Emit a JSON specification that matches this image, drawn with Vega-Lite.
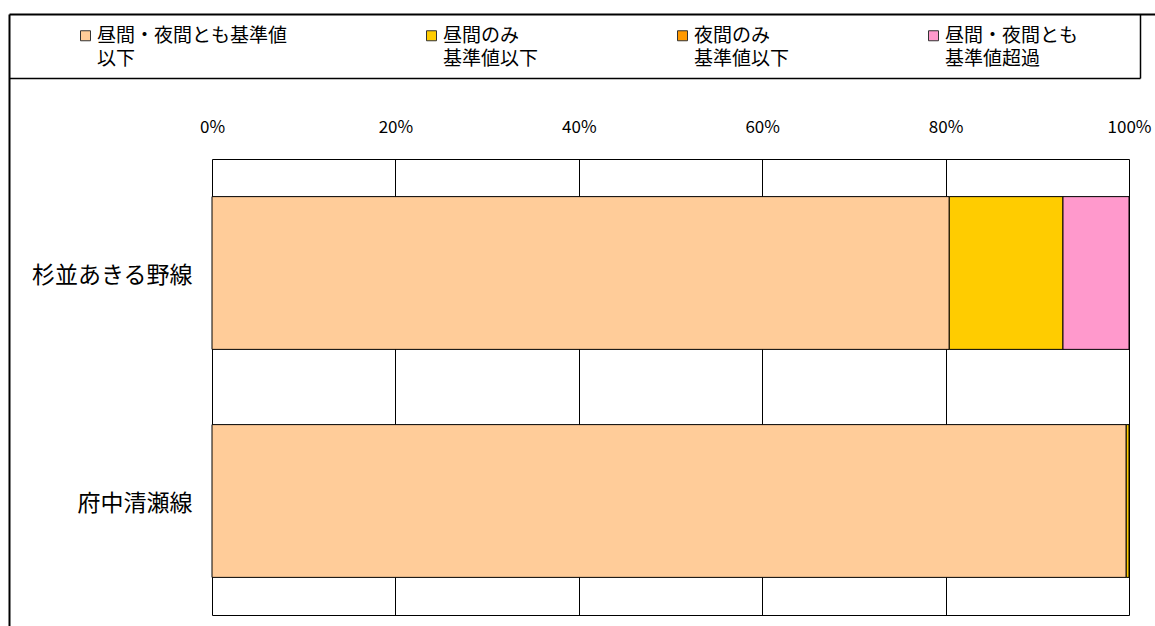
{
  "$schema": "https://vega.github.io/schema/vega-lite/v6.json",
  "autosize": {"type": "none"},
  "padding": {"left": 9, "top": 14, "right": 0, "bottom": 0},
  "width": 1146,
  "height": 612,
  "background": "white",
  "data": {
    "values": [
      {"route": "杉並あきる野線", "cat": "昼間・夜間とも基準値以下", "pct": 80.4, "rank": 1},
      {"route": "杉並あきる野線", "cat": "昼間のみ基準値以下", "pct": 12.4, "rank": 2},
      {"route": "杉並あきる野線", "cat": "昼間・夜間とも基準値超過", "pct": 7.2, "rank": 4},
      {"route": "府中清瀬線", "cat": "昼間・夜間とも基準値以下", "pct": 99.7, "rank": 1},
      {"route": "府中清瀬線", "cat": "昼間のみ基準値以下", "pct": 0.3, "rank": 2}
    ]
  },
  "layer": [
    {
      "mark": {"type": "bar", "stroke": "black", "strokeWidth": 1},
      "encoding": {
        "x": {
          "field": "pct", "type": "quantitative", "stack": "zero",
          "scale": {"domain": [0, 100], "range": [203, 1120], "nice": false},
          "axis": {
            "orient": "top", "offset": -145, "title": null,
            "values": [0, 20, 40, 60, 80, 100],
            "labelExpr": "datum.value + '%'",
            "grid": true, "gridColor": "black", "gridOpacity": 1, "gridWidth": 1,
            "domain": true, "domainColor": "black", "domainWidth": 1,
            "ticks": false, "labelPadding": 23, "labelFontSize": 17,
            "labelColor": "black", "labelFlush": false, "labelOverlap": false
          }
        },
        "y": {
          "field": "route", "type": "nominal",
          "sort": ["杉並あきる野線", "府中清瀬線"],
          "scale": {"range": [145, 601], "paddingInner": 0.33, "paddingOuter": 0.165},
          "axis": {
            "orient": "left", "offset": -203, "title": null,
            "domain": false, "ticks": false, "grid": false,
            "labelPadding": 20, "labelFontSize": 23, "labelOffset": 3,
            "labelColor": "black", "labelLimit": 300
          }
        },
        "color": {
          "field": "cat", "type": "nominal",
          "scale": {
            "domain": ["昼間・夜間とも基準値以下", "昼間のみ基準値以下", "夜間のみ基準値以下", "昼間・夜間とも基準値超過"],
            "range": ["#FFCC99", "#FFCC00", "#FF9900", "#FF99CC"]
          },
          "legend": {
            "orient": "none", "legendX": 67, "legendY": 12,
            "direction": "horizontal", "columns": 4, "columnPadding": 134, "gridAlign": "each",
            "symbolType": "square", "symbolSize": 100, "symbolStrokeColor": "#333333", "symbolStrokeWidth": 1,
            "labelFontSize": 19, "labelOffset": 2, "labelLimit": 400,
            "labelColor": "black",
            "labelExpr": "datum.label == '昼間・夜間とも基準値以下' ? ['昼間・夜間とも基準値', '以下'] : datum.label == '昼間のみ基準値以下' ? ['昼間のみ', '基準値以下'] : datum.label == '夜間のみ基準値以下' ? ['夜間のみ', '基準値以下'] : ['昼間・夜間とも', '基準値超過']",
            "title": null,
            "padding": 0
          }
        },
        "order": {"field": "rank", "type": "quantitative"}
      }
    },
    {
      "mark": {"type": "point", "opacity": 0},
      "encoding": {
        "x": {
          "field": "pct", "type": "quantitative",
          "scale": {"domain": [0, 100], "range": [203, 1120], "nice": false},
          "axis": {
            "orient": "bottom", "offset": -11, "title": null,
            "labels": false, "ticks": false, "grid": false,
            "domain": true, "domainColor": "black", "domainWidth": 1
          }
        }
      }
    },
    {
      "mark": {"type": "point", "opacity": 0},
      "encoding": {
        "x": {
          "field": "pct", "type": "quantitative",
          "axis": {
            "orient": "top", "title": null, "labels": false, "ticks": false, "grid": false,
            "domain": true, "domainColor": "black", "domainWidth": 2
          }
        },
        "y": {
          "field": "pct", "type": "quantitative",
          "axis": {
            "orient": "left", "title": null, "labels": false, "ticks": false, "grid": false,
            "domain": true, "domainColor": "black", "domainWidth": 2
          }
        }
      }
    },
    {
      "mark": {"type": "point", "opacity": 0},
      "encoding": {
        "x": {
          "field": "pct", "type": "quantitative",
          "scale": {"range": [0, 1131]},
          "axis": {
            "orient": "top", "offset": -64, "title": null, "labels": false, "ticks": false, "grid": false,
            "domain": true, "domainColor": "black", "domainWidth": 1.5
          }
        },
        "y": {
          "field": "pct", "type": "quantitative",
          "scale": {"range": [0, 64]},
          "axis": {
            "orient": "left", "offset": -1131, "title": null, "labels": false, "ticks": false, "grid": false,
            "domain": true, "domainColor": "black", "domainWidth": 1.5
          }
        }
      }
    }
  ],
  "resolve": {
    "scale": {"x": "independent", "y": "independent"},
    "axis": {"x": "independent", "y": "independent"}
  },
  "config": {
    "view": {"stroke": null},
    "font": "Noto Sans CJK JP",
    "axis": {"labelFont": "Noto Sans CJK JP"},
    "legend": {"labelFont": "Noto Sans CJK JP", "titleFont": "Noto Sans CJK JP"},
    "style": {"guide-label": {"lineHeight": 23}}
  }
}
